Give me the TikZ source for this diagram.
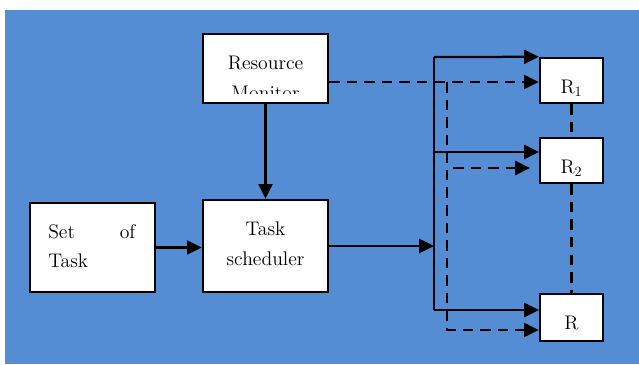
\documentclass[tikz,border=0pt]{standalone}
\usetikzlibrary{arrows.meta,calc}
\definecolor{bgblue}{RGB}{84,141,212}

\begin{document}
\begin{tikzpicture}[x=0.025cm, y=-0.025cm, >={Triangle[length=10.5pt,width=10pt]},
    every node/.style={font=\fontsize{14}{21}\selectfont},
    box/.style={draw, line width=1.7pt, fill=white, inner sep=0pt},
    lbl/.style={inner sep=0pt},
    conn/.style={line width=1.6pt},
    dsh/.style={conn, dash pattern=on 7.5pt off 5pt}]

  \useasboundingbox (0,0) rectangle (639,364);
  \fill[bgblue] (5,10) rectangle (639,364);

  % boxes
  \node[box, minimum width=3.125cm, minimum height=1.725cm] (mon) at (265.5,68.5) {};
  \node[box, minimum width=3.125cm, minimum height=2.225cm] (set) at (92.5,247.5) {};
  \node[box, minimum width=3.125cm, minimum height=2.3cm] (sched) at (265.5,246) {};
  \node[box, minimum width=1.575cm, minimum height=1.125cm] (r1) at (571.5,80.5) {};
  \node[box, minimum width=1.575cm, minimum height=1.125cm] (r2) at (571.5,160.5) {};
  \node[box, minimum width=1.575cm, minimum height=1.175cm] (r3) at (571.5,317.5) {};

  % texts
  \begin{scope}
    \clip (203,34) rectangle (328,93.5);
    \node[lbl, align=center] (mon txt) at (265.5,78) {Resource\\Monitor};
  \end{scope}
  \node[lbl, anchor=west, align=left] (set txt) at (48,246) {\makebox[2.175cm][s]{Set\hfill of}\\Task};
  \node[lbl, align=center] (sched txt) at (265.5,244) {Task\\scheduler};
  \node[lbl, anchor=base] (r1 txt) at (571.5,93) {R$_1$};
  \node[lbl, anchor=base] (r2 txt) at (571.5,173) {R$_2$};
  \node[lbl, anchor=base] (r3 txt) at (571.5,329) {R};

  % solid connectors
  \coordinate (bt) at (434,57);
  \coordinate (bb) at (434,310);
  \coordinate (r2 in) at (539,152);
  \coordinate (r3 in) at (539,310);
  \draw[conn, ->] (set) -- (set -| sched.west);
  \draw[conn, ->] (mon.south) -- (sched.north);
  \draw[conn, ->] (sched.east) -- (sched -| bt);
  \draw[conn] (bt) -- (bb);
  \draw[conn, ->] (bt) -- (r1.north west);
  \draw[conn, ->] (bt |- r2 in) -- (r2 in);
  \draw[conn, ->] (bb) -- (r3 in);

  % dashed connectors
  \coordinate (mon out) at (329,82);
  \coordinate (dv) at (447,82);
  \coordinate (dv bot) at (447,330);
  \coordinate (r2 dash) at (453,168);
  \coordinate (r2 tip) at (530,168);
  \draw[dsh, ->] (mon out) -- (mon out -| r1.west);
  \draw[dsh, ->] (dv) -- (dv bot) -- (dv bot -| r3.west);
  \draw[dsh, ->] (r2 dash) -- (r2 tip);
  \draw[dsh] (r1.south) -- (r2.north);
  \draw[dsh] (r2.south) -- (r3.north);
\end{tikzpicture}
\end{document}
